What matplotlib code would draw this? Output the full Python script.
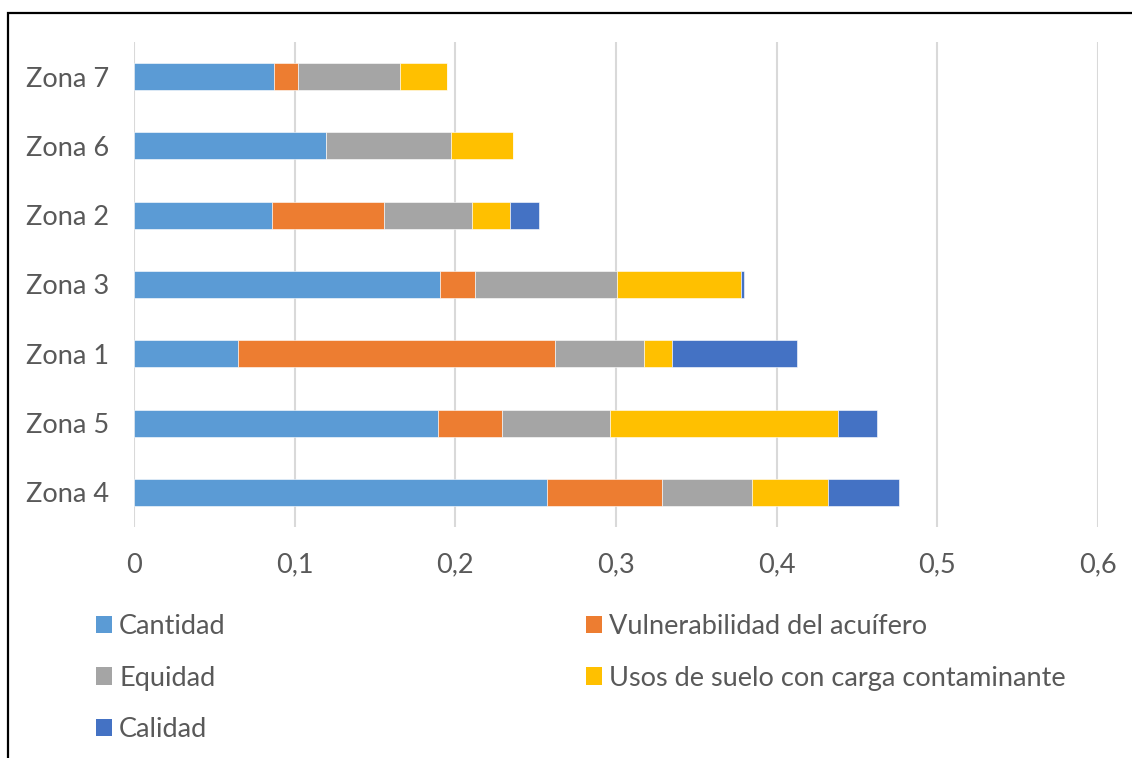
import matplotlib.pyplot as plt
from matplotlib.patches import Patch, Rectangle

plt.rcParams['font.family'] = ['Lato', 'DejaVu Sans']

# Values per zone, bottom to top
zonas = ['Zona 4', 'Zona 5', 'Zona 1', 'Zona 3', 'Zona 2', 'Zona 6', 'Zona 7']
cantidad      = [0.2568, 0.1893, 0.0646, 0.1905, 0.0857, 0.1192, 0.0872]
vulnerabilidad = [0.0721, 0.0398, 0.1974, 0.0220, 0.0697, 0.0, 0.0148]
equidad       = [0.0557, 0.0671, 0.0554, 0.0882, 0.0548, 0.0780, 0.0637]
usos_suelo    = [0.0475, 0.1420, 0.0176, 0.0770, 0.0237, 0.0386, 0.0291]
calidad       = [0.0443, 0.0243, 0.0775, 0.0020, 0.0180, 0.0, 0.0]

series = [
    ('Cantidad', cantidad, '#5B9BD5'),
    ('Vulnerabilidad del acuífero', vulnerabilidad, '#ED7D31'),
    ('Equidad', equidad, '#A5A5A5'),
    ('Usos de suelo con carga contaminante', usos_suelo, '#FFC000'),
    ('Calidad', calidad, '#4472C4'),
]
xticks = [0, 0.1, 0.2, 0.3, 0.4, 0.5, 0.6]
xticklabels = ['0', '0,1', '0,2', '0,3', '0,4', '0,5', '0,6']

FS = 19.5

W, H = 1132, 758
fig = plt.figure(figsize=(W / 100, H / 100), dpi=100)
ax = fig.add_axes([134 / W, 1 - 527 / H, (1098 - 134) / W, (527 - 42) / H])

left = [0.0] * len(zonas)
handles = {}
for name, vals, color in series:
    ax.barh(range(len(zonas)), vals, left=left, height=0.39, color=color,
            edgecolor='white', linewidth=0.4, zorder=3)
    left = [a + b for a, b in zip(left, vals)]
    handles[name] = Patch(facecolor=color, edgecolor='none')

ax.set_xlim(0, 0.6)
ax.set_ylim(-0.5, len(zonas) - 0.5)
ax.set_yticks(range(len(zonas)))
ax.set_yticklabels(zonas)
ax.set_xticks(xticks)
ax.set_xticklabels(xticklabels)
ax.tick_params(axis='both', length=0, labelsize=FS, colors='#595959')
ax.tick_params(axis='x', pad=18.5)
ax.tick_params(axis='y', pad=18)
for s in ax.spines.values():
    s.set_visible(False)
ax.grid(axis='x', color='#D9D9D9', linewidth=1.5, zorder=0)

# legend: two columns laid out row by row
leg_kw = dict(frameon=False, fontsize=FS, handlelength=0.6, handleheight=0.6,
              handletextpad=0.25, labelspacing=0.98, labelcolor='#595959',
              loc='upper left', borderpad=0, borderaxespad=0)
names1 = ['Cantidad', 'Equidad', 'Calidad']
names2 = ['Vulnerabilidad del acuífero', 'Usos de suelo con carga contaminante']
fig.legend([handles[n] for n in names1], names1,
           bbox_to_anchor=(96 / W, 1 - 614 / H), **leg_kw)
fig.legend([handles[n] for n in names2], names2,
           bbox_to_anchor=(586 / W, 1 - 614 / H), **leg_kw)

# chart frame, open at right and bottom
fig.add_artist(Rectangle((8 / W, -0.1), 1.2, 1 - 13 / H + 0.1,
                         transform=fig.transFigure, fill=False,
                         edgecolor='black', linewidth=1.6))

fig.savefig('out.png', dpi=100)
